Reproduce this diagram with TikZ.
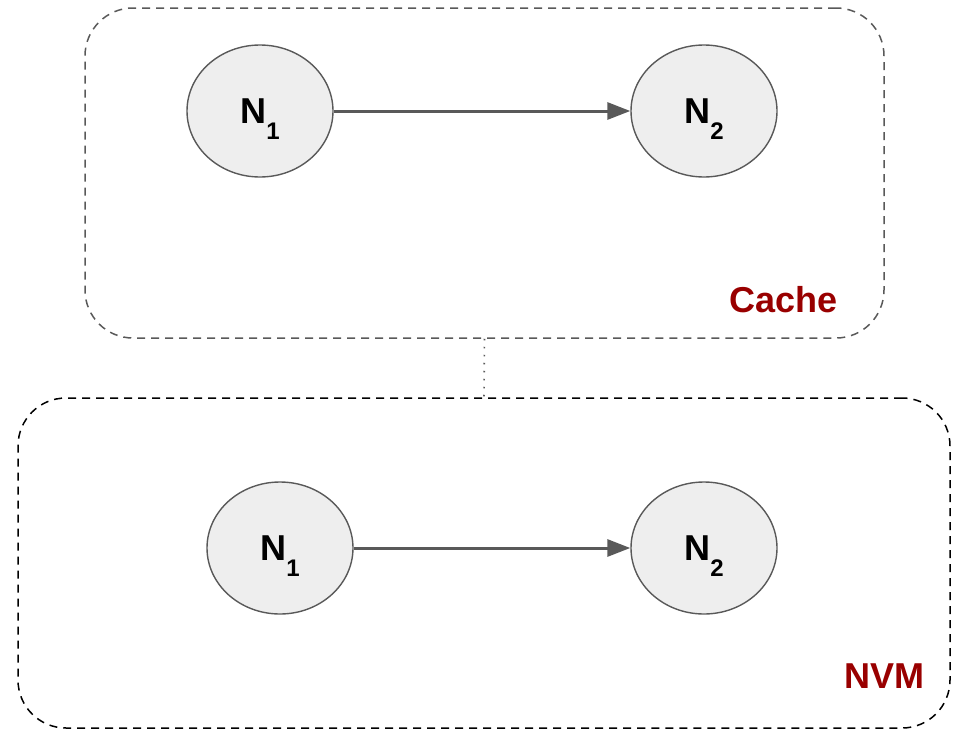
\documentclass[tikz,border=0pt]{standalone}
\usepackage{fontspec}
\setmainfont{Liberation Sans}
\usepackage{xcolor}
\usepackage{tikz}
\usetikzlibrary{positioning, shapes.geometric, arrows.meta}

\definecolor{edgegray}{HTML}{595959}
\definecolor{nodefill}{HTML}{EEEEEE}
\definecolor{tagred}{HTML}{990000}

\newcommand{\nsub}[1]{\bfseries N\raisebox{-16pt}[0pt][0pt]{\fontsize{24}{26}\selectfont\bfseries #1}}

\begin{document}
\begin{tikzpicture}[x=1pt,y=-1pt]
	\tikzstyle{vertex}=[ellipse,draw=edgegray,line width=1.4pt,fill=nodefill,minimum width=146pt,minimum height=132pt,inner sep=0pt,font=\fontsize{36}{40}\selectfont]
	\tikzstyle{region}=[rectangle,rounded corners=48pt,line width=1.5pt,dash pattern=on 8pt off 6pt,inner sep=0pt]
	\tikzstyle{tag}=[text=tagred,anchor=base,inner sep=0pt,font=\fontsize{36}{40}\selectfont\bfseries]
	\tikzstyle{link}=[draw=edgegray,line width=3pt,-{Triangle[length=23pt,width=17pt]}]
	\useasboundingbox (0,0) rectangle (953,731);
	% the two memory regions
	\node[region,draw=edgegray,minimum width=799pt,minimum height=330pt](cache) at (484.5,173) {};
	\node[region,draw=black,minimum width=932pt,minimum height=330pt](nvm) at (484,563) {};
	\draw[edgegray,line width=1.6pt,dash pattern=on 1.6pt off 6.4pt](cache.south) -- (nvm.north);
	\node[tag](cachetag) at (783.5,312) {Cache};
	\node[tag](nvmtag) at (884,688) {NVM};
	% nodes in cache
	\node[vertex](c1) at (260,111) {\nsub{1}};
	\node[vertex](c2) at (704,111) {\nsub{2}};
	% nodes in nvm
	\node[vertex](m1) at (280,548) {\nsub{1}};
	\node[vertex](m2) at (704,548) {\nsub{2}};
	\draw[link](c1) -- (c2);
	\draw[link](m1) -- (m2);
\end{tikzpicture}
\end{document}
